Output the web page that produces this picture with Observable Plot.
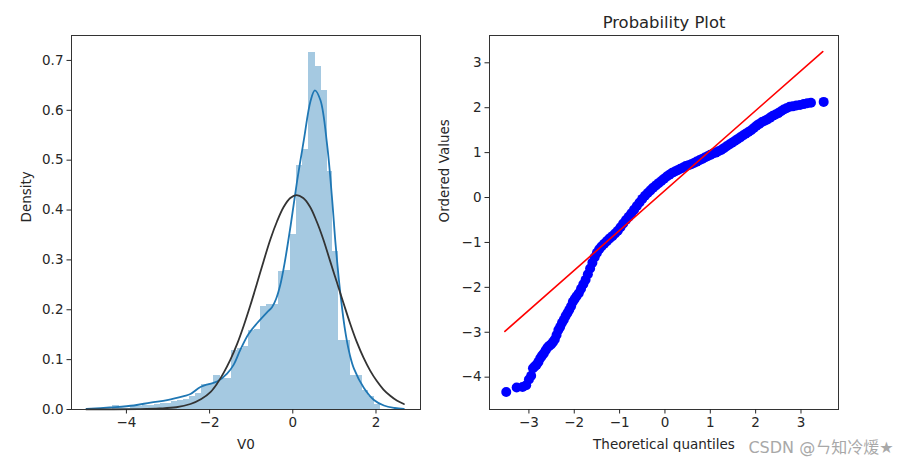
<!DOCTYPE html>
<html><head><meta charset="utf-8">
<script src="https://cdn.jsdelivr.net/npm/d3@7"></script>
<script src="https://cdn.jsdelivr.net/npm/@observablehq/plot@0.6"></script>
<style>
html,body{margin:0;padding:0;background:#fff;}
#wrap{position:relative;width:909px;height:466px;overflow:hidden;background:#fff;}
#left{position:absolute;left:0;top:0;}
#right{position:absolute;left:430px;top:0;}
</style></head><body>
<div id="wrap"><div id="left"></div><div id="right"></div></div>
<script>
// ---- Left panel: histogram of V0 (density), KDE, normal fit ----
const binEdges = [-4.318,-4.176,-4.033,-3.891,-3.748,-3.606,-3.463,-3.321,-3.178,-3.036,-2.893,-2.751,-2.608,-2.466,-2.323,-2.181,-2.038,-1.896,-1.753,-1.611,-1.468,-1.326,-1.183,-1.041,-0.898,-0.756,-0.613,-0.471,-0.328,-0.186,-0.043,0.099,0.242,0.384,0.527,0.669,0.812,0.954,1.097,1.239,1.382,1.524,1.667,1.809,1.952,2.094];
const binDensity = [0.007,0.002,0.002,0.005,0.005,0.007,0.007,0.010,0.012,0.012,0.015,0.017,0.020,0.025,0.032,0.050,0.050,0.068,0.062,0.062,0.118,0.122,0.125,0.158,0.160,0.205,0.209,0.210,0.275,0.278,0.350,0.489,0.520,0.715,0.687,0.638,0.477,0.316,0.138,0.138,0.068,0.068,0.037,0.025,0.010];

const kdeX = [-4.96,-4.4,-3.82,-3.42,-3.02,-2.62,-2.46,-2.22,-2.02,-1.82,-1.58,-1.42,-1.26,-1.06,-0.86,-0.62,-0.50,-0.40,-0.30,-0.20,-0.05,0.105,0.265,0.425,0.53,0.665,0.826,0.947,1.03,1.147,1.27,1.37,1.47,1.71,1.95,2.19,2.45,2.67];
const kdeY = [0.001,0.004,0.008,0.014,0.019,0.027,0.031,0.045,0.051,0.056,0.072,0.090,0.120,0.152,0.173,0.195,0.205,0.222,0.250,0.292,0.370,0.459,0.540,0.618,0.640,0.620,0.530,0.420,0.330,0.230,0.152,0.110,0.082,0.043,0.019,0.008,0.003,0.001];

const fitX = [-4.96,-4.3,-3.7,-3.2,-2.8,-2.46,-2.2,-1.98,-1.82,-1.66,-1.50,-1.34,-1.18,-1.02,-0.86,-0.70,-0.54,-0.38,-0.22,-0.06,0.09,0.25,0.41,0.57,0.73,0.90,1.06,1.22,1.38,1.54,1.70,1.86,2.02,2.18,2.35,2.50,2.67];
const fitY = [0.0001,0.0003,0.0008,0.002,0.0045,0.011,0.021,0.035,0.052,0.074,0.100,0.131,0.168,0.209,0.253,0.298,0.341,0.377,0.406,0.424,0.430,0.424,0.407,0.378,0.342,0.297,0.255,0.213,0.172,0.135,0.104,0.078,0.057,0.040,0.027,0.018,0.011];

const leftXTicks = [-4,-2,0,2];
const leftYTicks = [0,0.1,0.2,0.3,0.4,0.5,0.6,0.7];

// ---- Right panel: probability plot ----
const qqTheoretical = [-3.50,-3.27,-3.14,-3.06,-3.00,-2.95,-2.91,-2.87,-2.83,-2.79,-2.75,-2.71,-2.67,-2.63,-2.59,-2.55,-2.51,-2.47,-2.43,-2.39,-2.35,-2.31,-2.27,-2.23,-2.19,-2.15,-2.11,-2.07,-2.03,-1.99,-1.95,-1.90,-1.85,-1.80,-1.75,-1.70,-1.65,-1.60,-1.55,-1.50,-1.45,-1.40,-1.34,-1.28,-1.22,-1.16,-1.10,-1.04,-0.98,-0.92,-0.86,-0.80,-0.74,-0.68,-0.62,-0.56,-0.50,-0.44,-0.38,-0.32,-0.26,-0.20,-0.14,-0.08,-0.02,0.04,0.10,0.16,0.22,0.28,0.34,0.40,0.46,0.52,0.58,0.64,0.70,0.76,0.82,0.88,0.94,1.00,1.06,1.12,1.18,1.24,1.30,1.36,1.42,1.48,1.54,1.60,1.66,1.72,1.78,1.84,1.90,1.96,2.02,2.08,2.14,2.20,2.26,2.32,2.38,2.44,2.50,2.56,2.62,2.68,2.75,2.82,2.90,2.98,3.06,3.14,3.22,3.50];
const qqOrdered = [-4.33,-4.23,-4.22,-4.18,-4.05,-3.97,-3.80,-3.76,-3.72,-3.66,-3.58,-3.52,-3.47,-3.40,-3.34,-3.30,-3.27,-3.22,-3.16,-3.06,-2.95,-2.88,-2.79,-2.72,-2.64,-2.57,-2.50,-2.42,-2.32,-2.26,-2.20,-2.13,-2.03,-1.93,-1.83,-1.71,-1.58,-1.45,-1.33,-1.23,-1.15,-1.09,-1.03,-0.97,-0.91,-0.86,-0.80,-0.74,-0.66,-0.58,-0.50,-0.43,-0.35,-0.27,-0.19,-0.11,-0.03,0.04,0.10,0.16,0.22,0.27,0.32,0.37,0.42,0.47,0.51,0.55,0.58,0.61,0.64,0.67,0.70,0.72,0.74,0.77,0.80,0.83,0.86,0.89,0.92,0.95,0.98,1.00,1.03,1.06,1.10,1.14,1.18,1.22,1.26,1.30,1.34,1.38,1.42,1.46,1.50,1.55,1.60,1.64,1.68,1.71,1.74,1.78,1.82,1.85,1.88,1.92,1.96,1.99,2.02,2.03,2.05,2.06,2.08,2.10,2.11,2.13];

const refLineX = [-3.53, 3.48];
const refLineY = [-2.98, 3.25];

const rightXTicks = [-3,-2,-1,0,1,2,3];
const rightYTicks = [-4,-3,-2,-1,0,1,2,3];

const titleText = "Probability Plot";
const watermark = "CSDN @ㄣ知冷煖★";

// ---- build tables ----
const bins = binDensity.map((d, i) => ({x1: binEdges[i], x2: binEdges[i + 1], y: d}));
const kde = kdeX.map((x, i) => ({x, y: kdeY[i]}));
const fit = fitX.map((x, i) => ({x, y: fitY[i]}));
const qq = qqTheoretical.map((x, i) => ({x, y: qqOrdered[i]}));
const ref = refLineX.map((x, i) => ({x, y: refLineY[i]}));

const FONT = '"DejaVu Sans", "Noto Sans CJK SC", sans-serif';
const FS = 13.5;
const INK = "#262626";
const BAR = "#a5c9e1";
const axisOpts = {tickSize: 4.5, tickPadding: 3.5, fontSize: FS, label: null, stroke: INK, fill: INK};

const leftPlot = Plot.plot({
  width: 430, height: 466,
  marginLeft: 71, marginRight: 10, marginTop: 35, marginBottom: 57,
  style: {fontFamily: FONT, fontSize: FS + "px", color: INK, background: "#fff"},
  x: {domain: [-5.32, 3.07]},
  y: {domain: [0, 0.75]},
  marks: [
    Plot.rectY(bins, {x1: "x1", x2: "x2", y: "y", fill: BAR, stroke: BAR, strokeWidth: 1, inset: 0, shapeRendering: "crispEdges"}),
    Plot.line(kde, {x: "x", y: "y", stroke: "#1f77b4", strokeWidth: 1.8, curve: "catmull-rom"}),
    Plot.line(fit, {x: "x", y: "y", stroke: "#333333", strokeWidth: 1.8, curve: "catmull-rom"}),
    Plot.frame({stroke: "#333"}),
    Plot.axisX({...axisOpts, ticks: leftXTicks, tickFormat: d3.format("d")}),
    Plot.axisY({...axisOpts, ticks: leftYTicks, tickFormat: d3.format(".1f")}),
    Plot.text(["V0"], {frameAnchor: "bottom", lineAnchor: "bottom", dy: 39, fontSize: FS, fill: INK}),
    Plot.text(["Density"], {frameAnchor: "left", rotate: -90, dx: -45, fontSize: FS, fill: INK})
  ]
});
document.getElementById("left").appendChild(leftPlot);

const rightPlot = Plot.plot({
  width: 479, height: 466,
  marginLeft: 59, marginRight: 71, marginTop: 35, marginBottom: 57,
  style: {fontFamily: FONT, fontSize: FS + "px", color: INK, background: "#fff"},
  x: {domain: [-3.869, 3.827]},
  y: {domain: [-4.72, 3.608]},
  marks: [
    Plot.dot(qq, {x: "x", y: "y", r: 5, fill: "#0000ff", stroke: null}),
    Plot.line(ref, {x: "x", y: "y", stroke: "#ff0000", strokeWidth: 1.6}),
    Plot.frame({stroke: "#333"}),
    Plot.axisX({...axisOpts, ticks: rightXTicks, tickFormat: d3.format("d")}),
    Plot.axisY({...axisOpts, ticks: rightYTicks, tickFormat: d3.format("d")}),
    Plot.text([titleText], {frameAnchor: "top", lineAnchor: "bottom", dy: -8, fontSize: 16.4, fill: INK}),
    Plot.text(["Theoretical quantiles"], {frameAnchor: "bottom", lineAnchor: "bottom", dy: 39, fontSize: FS, fill: INK}),
    Plot.text(["Ordered Values"], {frameAnchor: "left", rotate: -90, dx: -45, fontSize: FS, fill: INK}),
    Plot.text([watermark], {frameAnchor: "bottom-right", lineAnchor: "bottom", dx: 55, dy: 43, textAnchor: "end", fontSize: 16, fill: "#a8a8a8"})
  ]
});
document.getElementById("right").appendChild(rightPlot);
</script>
</body></html>
